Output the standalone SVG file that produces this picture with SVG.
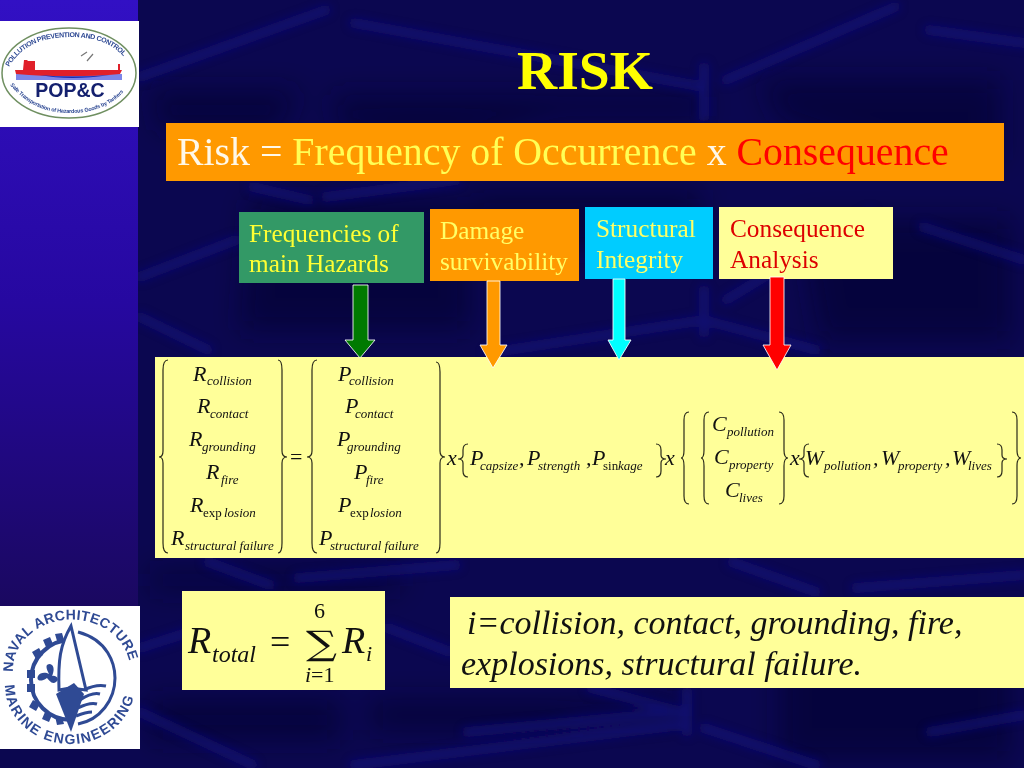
<svg xmlns="http://www.w3.org/2000/svg" width="1024" height="768" viewBox="0 0 1024 768">
<defs>
<style>
text{font-family:"Liberation Serif","Times New Roman",serif}
.m{font-style:italic;font-size:22px;fill:#111}
.s{font-style:italic;font-size:13px;fill:#111}
.u{font-size:13px;fill:#111}
.b{fill:none;stroke:#2a2a1a;stroke-width:1.2}
.l{font-size:25.3px}
.a{stroke:#fff;stroke-width:1;stroke-opacity:.85}
.rope{fill:none;stroke:#1a1288;stroke-linecap:round;stroke-width:10;opacity:.55}
.dark{fill:#040128;opacity:.5}
.logo{fill:#2f4a94;font-family:"Liberation Sans",sans-serif;font-weight:bold}
.big{font-size:38px;font-style:italic;fill:#111}
.mid{font-size:22px;fill:#111}
</style>
<linearGradient id="side" x1="0" y1="0" x2="0" y2="1"><stop offset="0" stop-color="#3210c4"/><stop offset=".5" stop-color="#2608a0"/><stop offset="1" stop-color="#1a0860"/></linearGradient>
<filter id="blur" x="-10%" y="-10%" width="120%" height="120%"><feGaussianBlur stdDeviation="4"/></filter>
<filter id="blur2" x="-20%" y="-20%" width="140%" height="140%"><feGaussianBlur stdDeviation="14"/></filter>
<path id="arc1" d="M9 67C22 44 46 37 70 37C96 37 118 44 131 67"/>
<path id="arc2" d="M10 85C30 108 50 113 70 113C92 113 115 106 130 84"/>
<path id="arc3" d="M13 672A58 50 0 0 1 130 668"/>
<path id="arc4" d="M5 685A65 59 0 0 0 135 685"/>
</defs>
<rect width="1024" height="768" fill="#0b0750"/>
<g filter="url(#blur2)">
<path class="dark" d="M330 95H704V118H560L420 150L340 130ZM150 90H300L280 130H160ZM760 80H1000V160H900L780 120ZM250 200H470V330H240ZM800 220H1010V340H820ZM470 190H700V250H480ZM150 570H400V590H150ZM460 700H680V720H460ZM780 640H1010V760H780ZM150 700H340V740H150ZM370 700H570V730H370Z"/>
</g>
<g filter="url(#blur)">
<path class="rope" d="M140 77L326 10M354 23L704 87M726 80L895 7M929 30L1024 43M704 67L704 117M140 277L236 240M253 187L309 200M326 197L456 180M923 227L1024 260M726 300L870 213M489 353L704 320M704 290L704 333M704 320L816 350M140 317L208 350"/>
<path class="rope" d="M298 578L456 565M208 562L270 585M732 562L816 592M856 588L1024 575M140 648L202 628M388 628L450 652M591 688L681 712M467 732L681 712M687 692L687 732M140 712L253 765M354 765L681 725M704 728L816 765M930 732L1024 715"/>
</g>
<rect x="0" y="0" width="138" height="606" fill="url(#side)"/>
<rect x="0" y="749" width="140" height="19" fill="#0b0750"/>

<g id="logo-popc">
<rect x="0" y="21" width="139" height="106" fill="#fff"/>
<ellipse cx="69" cy="73" rx="67" ry="45" fill="none" stroke="#6f8f60" stroke-width="1.5"/>
<text class="logo" font-size="7"><textPath href="#arc1" textLength="130">POLLUTION PREVENTION AND CONTROL</textPath></text>
<text class="logo" font-size="5.5"><textPath href="#arc2" textLength="128">Safe Transportation of Hazardous Goods by Tankers</textPath></text>
<path d="M16 74H122V80H16Z" fill="#7c86e8"/>
<path d="M15 70H23L24 60H27L28 61H35V70H122L120 74C90 77 50 77 16 74Z" fill="#e0202a"/>
<path d="M118 70V64H120V70Z" fill="#e0202a"/>
<path d="M40 75Q70 78 110 75Q70 81 40 75Z" fill="#1a2bb0"/>
<path d="M81 56L87 52M87 61L93 54" stroke="#777" stroke-width="1.2"/>
<text x="70" y="97" text-anchor="middle" style="font-family:'Liberation Sans',sans-serif" font-weight="bold" font-size="19.5" fill="#14206e">POP&amp;C</text>
</g>

<g id="logo-name">
<rect x="0" y="606" width="140" height="143" fill="#fff"/>
<text class="logo" font-size="14"><textPath href="#arc3" textLength="164">NAVAL ARCHITECTURE</textPath></text>
<text class="logo" font-size="14"><textPath href="#arc4" textLength="182">MARINE ENGINEERING</textPath></text>
<path d="M71 640A40 40 0 0 0 71 720" fill="none" stroke="#2f4a94" stroke-width="4"/>
<path d="M27 670h8v8h-8zM27 684h8v8h-8zM32 652l7-4 4 7-7 4zM33 700l7 4-4 7-7-4zM43 640l7-3 3 7-7 3zM45 712l7 3-3 7-7-3zM55 634l7-1 2 7-7 1zM55 716l7 1 2 7-7 1z" fill="#2f4a94"/>
<path d="M47 678C40 683 36 680 38 676C40 672 46 672 49 674C46 668 45 664 50 664C55 665 54 672 52 676C57 675 60 680 56 682C52 685 49 680 47 678Z" fill="#2f4a94"/>
<path d="M71 626L86 690L70 688L59 690C58 660 60 645 71 626Z" fill="#fff" stroke="#2f4a94" stroke-width="3"/>
<path d="M56 694L74 683L84 694L71 732Z" fill="#2f4a94"/>
<path d="M78 632C108 640 115 664 115 678C115 700 100 720 78 724" fill="none" stroke="#2f4a94" stroke-width="3"/>
<path d="M80 700Q92 692 100 694M78 708Q90 702 97 704M76 716Q86 712 92 712M84 690Q96 684 106 686" fill="none" stroke="#2f4a94" stroke-width="3"/>
</g>

<g id="title"><text x="585" y="89" text-anchor="middle" font-size="55.6" font-weight="bold" fill="#ffff00">RISK</text></g>

<g id="risk-equation">
<rect x="166" y="123" width="838" height="58" fill="#ff9900"/>
<text x="177" y="165" font-size="39.8" fill="#fff8e8">Risk = <tspan fill="#ffff55">Frequency of Occurrence</tspan> x <tspan fill="#ff0000">Consequence</tspan></text>
</g>

<g id="node-frequencies">
<rect x="239" y="212" width="185" height="71" fill="#339966"/>
<text class="l" fill="#ffff33"><tspan x="249" y="242">Frequencies of</tspan><tspan x="249" y="272">main Hazards</tspan></text>
</g>
<g id="node-damage">
<rect x="430" y="209" width="149" height="72" fill="#ff9900"/>
<text class="l" fill="#ffff66"><tspan x="440" y="239">Damage</tspan><tspan x="440" y="270">survivability</tspan></text>
</g>
<g id="node-structural">
<rect x="585" y="207" width="128" height="72" fill="#00ccff"/>
<text class="l" fill="#ffff66"><tspan x="596" y="237">Structural</tspan><tspan x="596" y="268">Integrity</tspan></text>
</g>
<g id="node-consequence">
<rect x="719" y="207" width="174" height="72" fill="#ffff99"/>
<text class="l" fill="#dd0000"><tspan x="730" y="237">Consequence</tspan><tspan x="730" y="268">Analysis</tspan></text>
</g>

<g id="node-matrix">
<rect x="155" y="357" width="869" height="201" fill="#ffff99"/>
<path class="b" d="M168 360Q163 360 163 370V451Q163 457 159 457Q163 457 163 463V543Q163 553 168 553"/>
<path class="b" d="M278 360Q282 360 282 370V451Q282 457 287 457Q282 457 282 463V543Q282 553 278 553"/>
<path class="b" d="M317 360Q312 360 312 370V451Q312 457 307 457Q312 457 312 463V543Q312 553 317 553"/>
<path class="b" d="M436 362Q440 362 440 372V451Q440 457 445 457Q440 457 440 463V543Q440 553 436 553"/>
<text class="m" x="193" y="381">R</text><text class="s" x="207" y="385">collision</text>
<text class="m" x="197" y="413">R</text><text class="s" x="210" y="418">contact</text>
<text class="m" x="189" y="446">R</text><text class="s" x="202" y="451">grounding</text>
<text class="m" x="206" y="479">R</text><text class="s" x="221" y="484">fire</text>
<text class="m" x="190" y="512">R</text><text class="u" x="203" y="517">exp</text><text class="s" x="224" y="517">losion</text>
<text class="m" x="171" y="545">R</text><text class="s" x="185" y="550">structural failure</text>
<text x="290" y="464" font-size="22" fill="#111">=</text>
<text class="m" x="338" y="381">P</text><text class="s" x="349" y="385">collision</text>
<text class="m" x="345" y="413">P</text><text class="s" x="355" y="418">contact</text>
<text class="m" x="337" y="446">P</text><text class="s" x="347" y="451">grounding</text>
<text class="m" x="354" y="479">P</text><text class="s" x="366" y="484">fire</text>
<text class="m" x="338" y="512">P</text><text class="u" x="350" y="517">exp</text><text class="s" x="370" y="517">losion</text>
<text class="m" x="319" y="545">P</text><text class="s" x="330" y="550">structural failure</text>
<text class="m" x="447" y="465">x</text>
<path class="b" d="M468 444Q463 444 463 450V455Q463 459 458 459Q463 459 463 463V471Q463 477 468 477"/>
<text class="m" x="470" y="465">P</text><text class="s" x="480" y="470">capsize</text><text class="m" x="519" y="465">,</text>
<text class="m" x="527" y="465">P</text><text class="s" x="538" y="470">strength</text><text class="m" x="586" y="465">,</text>
<text class="m" x="592" y="465">P</text><text class="u" x="603" y="470">sin</text><text class="s" x="618" y="470">kage</text>
<path class="b" d="M656 444Q661 444 661 450V455Q661 459 666 459Q661 459 661 463V471Q661 477 656 477"/>
<text class="m" x="665" y="465">x</text>
<path class="b" d="M689 412Q684 412 684 420V450Q684 458 681 458Q684 458 684 466V496Q684 504 689 504"/>
<path class="b" d="M709 412Q704 412 704 420V450Q704 458 701 458Q704 458 704 466V496Q704 504 709 504"/>
<text class="m" x="712" y="431">C</text><text class="s" x="727" y="436">pollution</text>
<text class="m" x="714" y="464">C</text><text class="s" x="729" y="469">property</text>
<text class="m" x="725" y="497">C</text><text class="s" x="739" y="502">lives</text>
<path class="b" d="M779 412Q784 412 784 420V450Q784 458 788 458Q784 458 784 466V496Q784 504 779 504"/>
<text class="m" x="790" y="465">x</text>
<path class="b" d="M809 444Q804 444 804 450V455Q804 459 799 459Q804 459 804 463V471Q804 477 809 477"/>
<text class="m" x="805" y="465">W</text><text class="s" x="824" y="470">pollution</text><text class="m" x="873" y="465">,</text>
<text class="m" x="881" y="465">W</text><text class="s" x="898" y="470">property</text><text class="m" x="945" y="465">,</text>
<text class="m" x="952" y="465">W</text><text class="s" x="968" y="470">lives</text>
<path class="b" d="M997 444Q1002 444 1002 450V455Q1002 459 1007 459Q1002 459 1002 463V471Q1002 477 997 477"/>
<path class="b" d="M1012 412Q1017 412 1017 420V450Q1017 458 1021 458Q1017 458 1017 466V496Q1017 504 1012 504"/>
</g>

<g id="node-total">
<rect x="182" y="591" width="203" height="99" fill="#ffff99"/>
<text class="big" x="188" y="653">R</text>
<text x="212" y="662" font-size="24" font-style="italic" fill="#111">total</text>
<text x="270" y="654" font-size="36" fill="#111">=</text>
<text x="306" y="655" font-size="34" fill="#111" style="font-family:'DejaVu Serif',serif" textLength="31" lengthAdjust="spacingAndGlyphs">∑</text>
<text class="mid" x="314" y="618">6</text>
<text class="mid" x="305" y="682" font-style="italic">i</text>
<text class="mid" x="311" y="682">=1</text>
<text class="big" x="342" y="653">R</text>
<text class="mid" x="366" y="661" font-style="italic">i</text>
</g>

<g id="node-index">
<rect x="450" y="597" width="574" height="91" fill="#ffff99"/>
<text font-size="34" font-style="italic" fill="#111"><tspan x="467" y="634">i=collision, contact, grounding, fire,</tspan><tspan x="461" y="675">explosions, structural failure.</tspan></text>
</g>

<g id="connectors">
<path class="a" fill="#007a00" d="M353 285H368V340H375L360 358L345 340H353Z"/>
<path class="a" fill="#ff9900" d="M487 281H500V345H507L493 368L480 345H487Z"/>
<path class="a" fill="#00ffff" d="M613 279H625V340H631L619 360L608 340H613Z"/>
<path class="a" fill="#ff0000" d="M770 277H784V345H791L777 370L763 345H770Z"/>
</g>
</svg>
